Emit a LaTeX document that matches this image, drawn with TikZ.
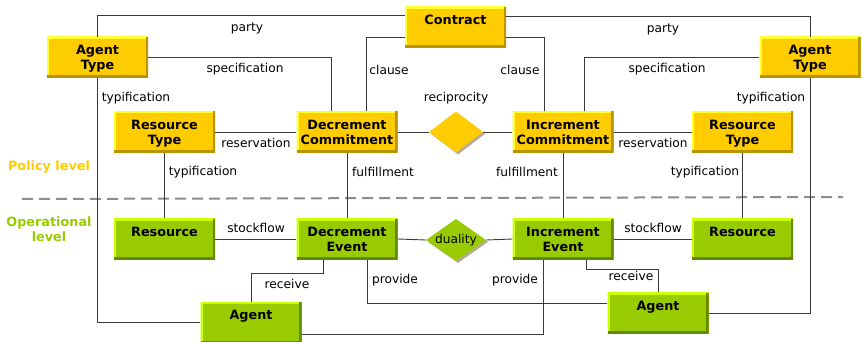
\documentclass[tikz,border=0pt]{standalone}
\usepackage{fontspec}
\setmainfont{DejaVu Sans}
\usetikzlibrary{shapes.geometric, shadows}

\definecolor{polyellow}{HTML}{FFCC00}
\definecolor{pollight}{HTML}{FFFF33}
\definecolor{poldark}{HTML}{B89400}
\definecolor{opgreen}{HTML}{99CC00}
\definecolor{oplight}{HTML}{CCFF00}
\definecolor{opdark}{HTML}{668800}
\definecolor{linegray}{HTML}{3A3A3A}
\definecolor{dashgray}{HTML}{8C8C8C}
\definecolor{shadowgray}{HTML}{B5AA98}

\newcommand{\boxfont}{\bfseries\fontsize{12.8}{15}\selectfont}
\newcommand{\lblfont}{\fontsize{12.2}{14}\selectfont}

\tikzset{
  box/.style={minimum width=101pt, minimum height=41pt, inner sep=0pt, align=center, text depth=0pt, font=\boxfont},
  polbox/.style={box, fill=polyellow, path picture={
      \draw[line width=4pt, pollight] (path picture bounding box.south west) |- (path picture bounding box.north east);
      \draw[line width=5pt, poldark] (path picture bounding box.south west) -| (path picture bounding box.north east);}},
  opbox/.style={box, fill=opgreen, path picture={
      \draw[line width=4pt, oplight] (path picture bounding box.south west) |- (path picture bounding box.north east);
      \draw[line width=5pt, opdark] (path picture bounding box.south west) -| (path picture bounding box.north east);}},
  rel/.style={diamond, inner sep=0pt, aspect=1.45, font=\lblfont,
      drop shadow={shadow xshift=2pt, shadow yshift=-2pt, fill=shadowgray, opacity=1}},
  link/.style={draw=linegray, line width=0.9pt},
  lbl/.style={font=\lblfont, inner sep=1pt},
  level/.style={font=\boxfont, align=center}
}

\begin{document}
\begin{tikzpicture}[x=1pt, y=-1pt]
  \useasboundingbox (0,0) rectangle (862,342);
  % policy level
  \node[polbox] (contract) at (455.5,27.5) {Contract\\\mbox{}};
  \node[polbox] (agtypeL) at (97.5,57.5) {Agent\\Type};
  \node[polbox] (agtypeR) at (810,57.5) {Agent\\Type};
  \node[polbox] (restypeL) at (164.5,132) {Resource\\Type};
  \node[polbox] (deccom) at (347,132) {Decrement\\Commitment};
  \node[polbox] (inccom) at (563,132) {Increment\\Commitment};
  \node[polbox] (restypeR) at (742.5,132) {Resource\\Type};
  \node[rel, fill=polyellow, minimum width=54pt, minimum height=41pt] (recip) at (456,132) {};
  % operational level
  \node[opbox] (resL) at (164.5,239) {Resource\\\mbox{}};
  \node[opbox] (decev) at (347,239) {Decrement\\Event};
  \node[opbox] (incev) at (563,239) {Increment\\Event};
  \node[opbox] (resR) at (742.5,239) {Resource\\\mbox{}};
  \node[opbox] (agentL) at (251,322.5) {Agent\\\mbox{}};
  \node[opbox] (agentR) at (658,313) {Agent\\\mbox{}};
  \node[rel, fill=opgreen, minimum width=60pt, minimum height=42pt] (duality) at (456,240) {duality};

  % level separator
  \coordinate (sepL) at (22,199);
  \coordinate (sepR) at (843,197);
  \draw[dashgray, line width=2pt, dash pattern=on 11pt off 6pt] (sepL) -- (sepR);
  \node[level, text=polyellow] (policy) at (49,167) {Policy level};
  \node[level, text=opgreen] (oper) at (49,229) {Operational\\level};

  % connectors
  \draw[link] (agtypeL.north) |- ([yshift=-9pt]contract.north west); % party
  \draw[link] ([yshift=-10pt]contract.north east) -| (agtypeR.north); % party
  \draw[link] (agtypeL.east) -| ([xshift=-16pt]deccom.north); % specification
  \draw[link] (agtypeR.west) -| ([xshift=21pt]inccom.north); % specification
  \draw[link] ([yshift=-9.5pt]contract.west) -| ([xshift=19pt]deccom.north); % clause
  \draw[link] ([yshift=-9.5pt]contract.east) -| ([xshift=-19pt]inccom.north); % clause
  \draw[link] (agtypeL.south) |- (agentL.west); % typification
  \draw[link] (agtypeR.south) |- (agentR.east); % typification
  \draw[link] (restypeL.east) -- (deccom.west); % reservation
  \draw[link] (inccom.east) -- (restypeR.west); % reservation
  \draw[link] (deccom.east) -- (recip.west); % reciprocity
  \draw[link] (recip.east) -- (inccom.west);
  \draw[link] (restypeL.south) -- (resL.north); % typification
  \draw[link] (restypeR.south) -- (resR.north); % typification
  \draw[link] (deccom.south) -- (decev.north); % fulfillment
  \draw[link] (inccom.south) -- (incev.north); % fulfillment
  \draw[link] (resL.east) -- (decev.west); % stockflow
  \draw[link] (incev.east) -- (resR.west); % stockflow
  \draw[link] (decev.east) -- (duality.west); % duality
  \draw[link] (duality.east) -- (incev.west);
  \draw[link] ([xshift=-24pt]decev.south) -- ++(0,14) -| (agentL.north); % receive
  \draw[link] ([xshift=23pt]incev.south) -- ++(0,10) -| (agentR.north); % receive
  \draw[link] ([xshift=20pt]decev.south) |- ([yshift=10pt]agentR.west); % provide
  \draw[link] ([yshift=-11.5pt]agentL.east) -| ([xshift=-20pt]incev.south); % provide

  % labels
  \node[lbl] (partyL) at (247,28) {party};
  \node[lbl] (partyR) at (663,29) {party};
  \node[lbl] (specL) at (245,69) {specification};
  \node[lbl] (specR) at (667,69) {specification};
  \node[lbl] (clauseL) at (389,70) {clause};
  \node[lbl] (clauseR) at (520,70) {clause};
  \node[lbl] (typL) at (136,98) {typification};
  \node[lbl] (typR) at (771,98) {typification};
  \node[lbl] (recipL) at (456,98) {reciprocity};
  \node[lbl] (resvL) at (256,143) {reservation};
  \node[lbl] (resvR) at (653,143) {reservation};
  \node[lbl] (typRL) at (203,172) {typification};
  \node[lbl] (fulL) at (383,172) {fulfillment};
  \node[lbl] (fulR) at (527,172) {fulfillment};
  \node[lbl] (typRR) at (705,172) {typification};
  \node[lbl] (stockL) at (256,228) {stockflow};
  \node[lbl] (stockR) at (653,228) {stockflow};
  \node[lbl] (recvL) at (287,284) {receive};
  \node[lbl] (recvR) at (631,276) {receive};
  \node[lbl] (provL) at (395,280) {provide};
  \node[lbl] (provR) at (515,280) {provide};
\end{tikzpicture}
\end{document}
